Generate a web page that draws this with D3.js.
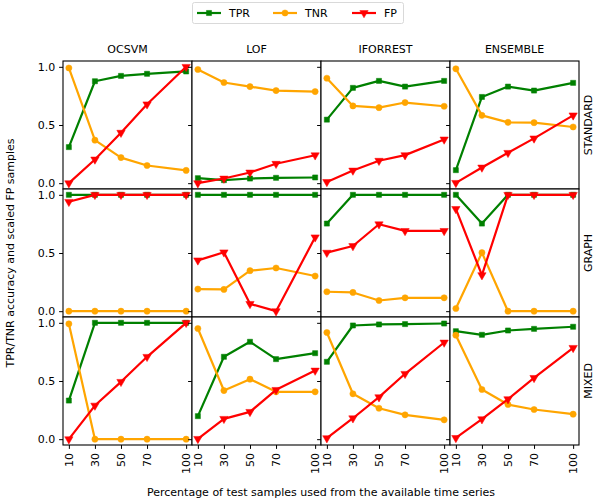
<!DOCTYPE html>
<html>
<head>
<meta charset="utf-8">
<script src="https://cdn.jsdelivr.net/npm/d3@7"></script>
<style>
  body { margin: 0; background: #fff; }
  text { font-family: "DejaVu Sans", sans-serif; fill: #000; }
</style>
</head>
<body>
<div id="chart"></div>
<script>
// x positions (percentage of test samples)
const x_values = [10, 30, 50, 70, 100];
const methods = ["OCSVM", "LOF", "IFORREST", "ENSEMBLE"];
const settings = ["STANDARD", "GRAPH", "MIXED"];
const series_names = ["TPR", "TNR", "FP"];
const series_colors = ["green", "orange", "red"];
const y_ticks = [0, 0.5, 1.0];

// one row per method, in the order of methods
const tpr_standard = [
    [0.31, 0.876, 0.922, 0.94, 0.96],
    [0.043, 0.026, 0.04, 0.046, 0.049],
    [0.546, 0.819, 0.879, 0.83, 0.879],
    [0.112, 0.741, 0.83, 0.796, 0.862]
];
const tnr_standard = [
    [0.99, 0.37, 0.22, 0.152, 0.11],
    [0.977, 0.865, 0.83, 0.796, 0.787],
    [0.902, 0.664, 0.649, 0.693, 0.661],
    [0.983, 0.583, 0.523, 0.52, 0.483]
];
const fp_standard = [
    [0.0, 0.204, 0.434, 0.678, 1.0],
    [0.0, 0.04, 0.092, 0.167, 0.24],
    [0.011, 0.109, 0.193, 0.241, 0.376],
    [0.003, 0.135, 0.261, 0.385, 0.583]
];

const tpr_graph = [
    [1.0, 1.0, 1.0, 1.0, 1.0],
    [1.0, 1.0, 1.0, 1.0, 1.0],
    [0.753, 1.0, 1.0, 1.0, 1.0],
    [1.0, 0.753, 1.0, 1.0, 1.0]
];
const tnr_graph = [
    [0.0, 0.0, 0.0, 0.0, 0.0],
    [0.19, 0.187, 0.348, 0.371, 0.302],
    [0.167, 0.161, 0.092, 0.115, 0.115],
    [0.023, 0.503, 0.0, 0.0, 0.0]
];
const fp_graph = [
    [0.94, 1.0, 1.0, 1.0, 1.0],
    [0.437, 0.506, 0.063, 0.0, 0.635],
    [0.503, 0.56, 0.747, 0.69, 0.69],
    [0.879, 0.31, 1.0, 1.0, 1.0]
];

const tpr_mixed = [
    [0.332, 1.0, 1.0, 1.0, 1.0],
    [0.198, 0.708, 0.837, 0.688, 0.739],
    [0.665, 0.977, 0.986, 0.989, 0.994],
    [0.928, 0.897, 0.934, 0.948, 0.966]
];
const tnr_mixed = [
    [0.991, 0.0, 0.0, 0.0, 0.0],
    [0.951, 0.418, 0.516, 0.407, 0.407],
    [0.917, 0.39, 0.266, 0.209, 0.166],
    [0.894, 0.427, 0.298, 0.255, 0.215]
];
const fp_mixed = [
    [0.0, 0.289, 0.493, 0.708, 1.0],
    [0.003, 0.175, 0.235, 0.424, 0.59],
    [0.009, 0.18, 0.361, 0.562, 0.831],
    [0.011, 0.172, 0.344, 0.527, 0.785]
];

const all_rows = [
    [tpr_standard, tnr_standard, fp_standard],
    [tpr_graph, tnr_graph, fp_graph],
    [tpr_mixed, tnr_mixed, fp_mixed]
];

const width = 594, height = 498;
const margin_left = 63, margin_top = 61;
const panel_w = 129, panel_h = 128;
const tick_len = 3.9, font_size = 11;

let svg = d3.select("#chart").append("svg")
    .attr("width", width)
    .attr("height", height);

let x = d3.scaleLinear().domain([10 - 4.5, 100 + 4.5]).range([0, panel_w]);
let y = d3.scaleLinear().domain([-0.05, 1.05]).range([panel_h, 0]);

let line = d3.line()
    .x(function(d, i) { return x(x_values[i]); })
    .y(function(d) { return y(d); });

let symbols = [d3.symbolSquare, d3.symbolCircle, d3.symbolTriangle];
let symbol_sizes = [26, 30, 30];

function draw_marker(g, kind, color, cx, cy) {
    let s = d3.symbol().type(symbols[kind]).size(symbol_sizes[kind]);
    g.append("path")
        .attr("d", s())
        .attr("transform", "translate(" + cx + "," + cy + ")" + (kind == 2 ? " rotate(180)" : ""))
        .style("fill", color)
        .style("stroke", color)
        .style("stroke-opacity", 0.5)
        .style("stroke-width", 1);
}

settings.forEach(function(setting, r) {
    methods.forEach(function(method, c) {
        let g = svg.append("g")
            .attr("transform", "translate(" + (margin_left + c * panel_w) + "," + (margin_top + r * panel_h) + ")");

        g.append("rect")
            .attr("width", panel_w).attr("height", panel_h)
            .style("fill", "white");

        let clip_id = "clip-" + r + "-" + c;
        g.append("clipPath").attr("id", clip_id)
            .append("rect").attr("width", panel_w).attr("height", panel_h);

        let plot = g.append("g").attr("clip-path", "url(#" + clip_id + ")");

        series_names.forEach(function(name, k) {
            let values = all_rows[r][k][c];
            plot.append("path")
                .datum(values)
                .attr("d", line)
                .style("fill", "none")
                .style("stroke", series_colors[k])
                .style("stroke-width", 2.2)
                .style("stroke-linejoin", "round");
            values.forEach(function(v, i) {
                draw_marker(plot, k, series_colors[k], x(x_values[i]), y(v));
            });
        });

        // frame
        g.append("rect")
            .attr("width", panel_w).attr("height", panel_h)
            .style("fill", "none")
            .style("stroke", "black")
            .style("stroke-width", 1.1);

        // y ticks (labels only on first column)
        let y_axis = d3.axisLeft(y).tickValues(y_ticks).tickSize(tick_len).tickPadding(3.9)
            .tickFormat(c == 0 ? d3.format(".1f") : "");
        let ya = g.append("g").call(y_axis);
        ya.select(".domain").remove();
        ya.selectAll("line").style("stroke", "black").style("stroke-width", 1);
        ya.selectAll("text").style("font-size", font_size + "px").style("font-family", "DejaVu Sans");

        // x ticks (only on bottom row)
        if (r == settings.length - 1) {
            let x_axis = d3.axisBottom(x).tickValues(x_values).tickSize(tick_len).tickFormat("");
            let xa = g.append("g").attr("transform", "translate(0," + panel_h + ")").call(x_axis);
            xa.select(".domain").remove();
            xa.selectAll("line").style("stroke", "black").style("stroke-width", 1);
            x_values.forEach(function(v) {
                g.append("text")
                    .attr("transform", "translate(" + (x(v) + 4) + "," + (panel_h + 8) + ") rotate(-90)")
                    .attr("text-anchor", "end")
                    .style("font-size", font_size + "px")
                    .text(v);
            });
        }

        if (r == 0) {
            g.append("text")
                .attr("x", panel_w / 2).attr("y", -8)
                .attr("text-anchor", "middle")
                .style("font-size", font_size + "px")
                .text(method);
        }
        if (c == methods.length - 1) {
            g.append("text")
                .attr("transform", "translate(" + (panel_w + 13) + "," + (panel_h / 2) + ") rotate(-90)")
                .attr("text-anchor", "middle")
                .style("font-size", font_size + "px")
                .text(setting);
        }
    });
});

// axis titles
svg.append("text")
    .attr("transform", "translate(14," + (margin_top + 1.5 * panel_h) + ") rotate(-90)")
    .attr("text-anchor", "middle")
    .style("font-size", font_size + "px")
    .text("TPR/TNR accuracy and scaled FP samples");

svg.append("text")
    .attr("x", margin_left + 2 * panel_w).attr("y", 496)
    .attr("text-anchor", "middle")
    .style("font-size", font_size + "px")
    .text("Percentage of test samples used from the available time series");

// legend
let legend = svg.append("g");
legend.append("rect")
    .attr("x", 192.5).attr("y", 2.5).attr("width", 211).attr("height", 21)
    .attr("rx", 2)
    .style("fill", "white")
    .style("stroke", "#d9d9d9")
    .style("stroke-width", 1);
let legend_x = [197, 273, 352];
series_names.forEach(function(name, k) {
    legend.append("line")
        .attr("x1", legend_x[k]).attr("x2", legend_x[k] + 24)
        .attr("y1", 13).attr("y2", 13)
        .style("stroke", series_colors[k])
        .style("stroke-width", 2.2);
    draw_marker(legend, k, series_colors[k], legend_x[k] + 12, 13);
    legend.append("text")
        .attr("x", legend_x[k] + 32).attr("y", 17)
        .style("font-size", font_size + "px")
        .text(name);
});
</script>
</body>
</html>
